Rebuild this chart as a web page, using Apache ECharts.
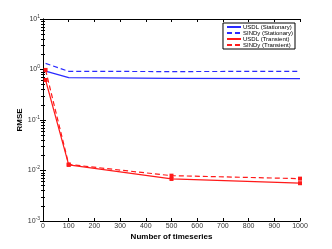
<!DOCTYPE html>
<html><head><meta charset="utf-8">
<script src="https://cdn.jsdelivr.net/npm/echarts@6/dist/echarts.min.js"></script>
<style>html,body{margin:0;padding:0;background:#fff}#c{width:332px;height:249px}</style>
</head><body><div id="c"></div>
<script>
const xValues = [10, 100, 500, 1000];
const usdlStationary = [0.93, 0.69, 0.67, 0.66];
const sindyStationary = [1.32, 0.92, 0.91, 0.92];
const usdlTransient = [0.62, 0.0129, 0.0068, 0.0056];
const sindyTransient = [0.98, 0.0132, 0.0079, 0.0069];
const seriesNames = ['USDL (Stationary)', 'SINDy (Stationary)', 'USDL (Transient)', 'SINDy (Transient)'];
const xTicks = [0, 100, 200, 300, 400, 500, 600, 700, 800, 900, 1000];

const font = 'Liberation Sans, Arial, sans-serif';
function pts(ys) { return xValues.map((x, i) => [x, ys[i]]); }
function yLab(v) {
  const e = Math.round(Math.log10(v));
  return '10{s|' + e + '}';
}
const chart = echarts.init(document.getElementById('c'));
const axisCommon = {
  axisLine: { show: true, lineStyle: { color: '#000', width: 1 } },
  axisTick: { show: true, inside: true, length: 3, lineStyle: { color: '#000' } },
  splitLine: { show: false }
};
chart.setOption({
  animation: false,
  backgroundColor: '#fff',
  grid: { left: 43, right: 32, top: 19, bottom: 28 },
  legend: {
    right: 37, top: 23, orient: 'vertical',
    itemWidth: 14, itemHeight: 4, itemGap: 0,
    padding: [1, 2, 1, 3],
    borderColor: '#000', borderWidth: 1, backgroundColor: '#fff',
    textStyle: { fontFamily: font, fontSize: 6, color: '#000', padding: [0, 0, 0, -3] },
    itemStyle: { opacity: 0 },
    data: seriesNames
  },
  xAxis: [
    Object.assign({
      type: 'value', min: 0, max: 1000, interval: 100, position: 'bottom',
      axisLabel: { fontFamily: font, fontSize: 7, color: '#333', margin: 2,
        formatter: v => xTicks.indexOf(v) >= 0 ? String(v) : '' },
      name: 'Number of timeseries', nameLocation: 'middle', nameGap: 12, nameMoveOverlap: false,
      nameTextStyle: { fontFamily: font, fontSize: 8, fontWeight: 'bold', color: '#000' }
    }, axisCommon),
    Object.assign({
      type: 'value', min: 0, max: 1000, interval: 100, position: 'top',
      axisLabel: { show: false }
    }, axisCommon)
  ],
  yAxis: [
    Object.assign({
      type: 'log', logBase: 10, min: 0.001, max: 10, position: 'left',
      minorTick: { show: true, splitNumber: 9, length: 2, lineStyle: { color: '#000' } },
      axisLabel: {
        fontFamily: font, fontSize: 7, color: '#333', margin: 3,
        formatter: yLab,
        rich: { s: { fontSize: 5, verticalAlign: 'top', padding: [0, 0, 5, 0], fontFamily: font, color: '#333' } }
      },
      name: 'RMSE', nameLocation: 'middle', nameGap: 19, nameRotate: 90, nameMoveOverlap: false,
      nameTextStyle: { fontFamily: font, fontSize: 8, fontWeight: 'bold', color: '#000' }
    }, axisCommon),
    Object.assign({
      type: 'log', logBase: 10, min: 0.001, max: 10, position: 'right',
      minorTick: { show: true, splitNumber: 9, length: 2, lineStyle: { color: '#000' } },
      axisLabel: { show: false }
    }, axisCommon)
  ],
  series: [
    { name: seriesNames[0], type: 'line', data: pts(usdlStationary), symbol: 'none',
      lineStyle: { color: '#2a2aff', width: 1.2 }, itemStyle: { color: '#2a2aff' } },
    { name: seriesNames[1], type: 'line', data: pts(sindyStationary), symbol: 'none',
      lineStyle: { color: '#2a2aff', width: 1.2, type: [5, 3] }, itemStyle: { color: '#2a2aff' } },
    { name: seriesNames[2], type: 'line', data: pts(usdlTransient), symbol: 'rect', symbolSize: 4,
      lineStyle: { color: '#ff1a1a', width: 1.2 }, itemStyle: { color: '#ff1a1a' } },
    { name: seriesNames[3], type: 'line', data: pts(sindyTransient), symbol: 'rect', symbolSize: 4,
      lineStyle: { color: '#ff1a1a', width: 1.2, type: [5, 3] }, itemStyle: { color: '#ff1a1a' } }
  ]
});
</script></body></html>
